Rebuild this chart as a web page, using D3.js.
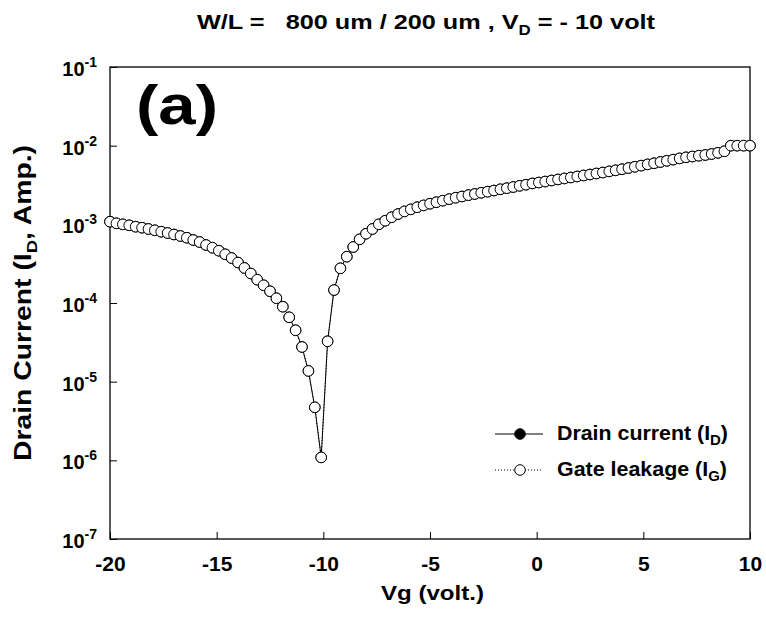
<!DOCTYPE html>
<html>
<head>
<meta charset="utf-8">
<script src="https://cdn.jsdelivr.net/npm/d3@7/dist/d3.min.js"></script>
<style>
  body { margin: 0; background: #fff; }
  text { font-family: "Liberation Sans", Arial, Helvetica, sans-serif; font-weight: bold; fill: #000; }
</style>
</head>
<body>
<svg id="chart" width="766" height="628"></svg>
<script>
// Gate sweep (volt)
const gateVoltage = [
  -20.0, -19.7, -19.4, -19.1, -18.8, -18.5, -18.2, -17.9, -17.6, -17.3,
  -17.0, -16.7, -16.4, -16.1, -15.8, -15.5, -15.2, -14.9, -14.6, -14.3,
  -14.0, -13.7, -13.4, -13.1, -12.8, -12.5, -12.2, -11.9, -11.6, -11.3,
  -11.0, -10.7, -10.4, -10.1, -9.8, -9.5, -9.2, -8.9, -8.6, -8.3,
  -8.0, -7.7, -7.4, -7.1, -6.8, -6.5, -6.2, -5.9, -5.6, -5.3,
  -5.0, -4.7, -4.4, -4.1, -3.8, -3.5, -3.2, -2.9, -2.6, -2.3,
  -2.0, -1.7, -1.4, -1.1, -0.8, -0.5, -0.2, 0.1, 0.4, 0.7,
  1.0, 1.3, 1.6, 1.9, 2.2, 2.5, 2.8, 3.1, 3.4, 3.7,
  4.0, 4.3, 4.6, 4.9, 5.2, 5.5, 5.8, 6.1, 6.4, 6.7,
  7.0, 7.3, 7.6, 7.9, 8.2, 8.5, 8.8, 9.1, 9.4, 9.7,
  10.0
];

// Drain current I_D (A)
const drainCurrent = [
  1.08e-3, 1.03e-3, 1.00e-3, 9.72e-4, 9.33e-4, 9.06e-4, 8.73e-4, 8.40e-4, 8.06e-4, 7.76e-4,
  7.43e-4, 7.11e-4, 6.76e-4, 6.32e-4, 5.96e-4, 5.46e-4, 5.05e-4, 4.62e-4, 4.16e-4, 3.73e-4,
  3.27e-4, 2.79e-4, 2.37e-4, 1.98e-4, 1.68e-4, 1.41e-4, 1.15e-4, 8.98e-5, 6.58e-5, 4.50e-5,
  2.76e-5, 1.37e-5, 4.72e-6, 1.09e-6, 3.26e-5, 1.46e-4, 2.76e-4, 3.88e-4, 5.15e-4, 6.45e-4,
  7.60e-4, 8.73e-4, 1.00e-3, 1.11e-3, 1.23e-3, 1.35e-3, 1.46e-3, 1.55e-3, 1.65e-3, 1.74e-3,
  1.83e-3, 1.91e-3, 2.00e-3, 2.09e-3, 2.18e-3, 2.26e-3, 2.35e-3, 2.43e-3, 2.52e-3, 2.60e-3,
  2.69e-3, 2.79e-3, 2.88e-3, 2.98e-3, 3.09e-3, 3.19e-3, 3.31e-3, 3.40e-3, 3.50e-3, 3.61e-3,
  3.72e-3, 3.83e-3, 3.94e-3, 4.06e-3, 4.18e-3, 4.30e-3, 4.43e-3, 4.56e-3, 4.71e-3, 4.86e-3,
  5.02e-3, 5.20e-3, 5.39e-3, 5.58e-3, 5.78e-3, 5.98e-3, 6.20e-3, 6.42e-3, 6.65e-3, 6.89e-3,
  7.11e-3, 7.28e-3, 7.45e-3, 7.61e-3, 7.83e-3, 8.11e-3, 8.48e-3, 1.00e-2, 1.00e-2, 1.00e-2,
  1.00e-2
];

// Gate leakage I_G (A)
const gateLeakage = [
  1.08e-3, 1.03e-3, 1.00e-3, 9.72e-4, 9.33e-4, 9.06e-4, 8.73e-4, 8.40e-4, 8.06e-4, 7.76e-4,
  7.43e-4, 7.11e-4, 6.76e-4, 6.32e-4, 5.96e-4, 5.46e-4, 5.05e-4, 4.62e-4, 4.16e-4, 3.73e-4,
  3.27e-4, 2.79e-4, 2.37e-4, 1.98e-4, 1.68e-4, 1.41e-4, 1.15e-4, 8.98e-5, 6.58e-5, 4.50e-5,
  2.76e-5, 1.37e-5, 4.72e-6, 1.09e-6, 3.26e-5, 1.46e-4, 2.76e-4, 3.88e-4, 5.15e-4, 6.45e-4,
  7.60e-4, 8.73e-4, 1.00e-3, 1.11e-3, 1.23e-3, 1.35e-3, 1.46e-3, 1.55e-3, 1.65e-3, 1.74e-3,
  1.83e-3, 1.91e-3, 2.00e-3, 2.09e-3, 2.18e-3, 2.26e-3, 2.35e-3, 2.43e-3, 2.52e-3, 2.60e-3,
  2.69e-3, 2.79e-3, 2.88e-3, 2.98e-3, 3.09e-3, 3.19e-3, 3.31e-3, 3.40e-3, 3.50e-3, 3.61e-3,
  3.72e-3, 3.83e-3, 3.94e-3, 4.06e-3, 4.18e-3, 4.30e-3, 4.43e-3, 4.56e-3, 4.71e-3, 4.86e-3,
  5.02e-3, 5.20e-3, 5.39e-3, 5.58e-3, 5.78e-3, 5.98e-3, 6.20e-3, 6.42e-3, 6.65e-3, 6.89e-3,
  7.11e-3, 7.28e-3, 7.45e-3, 7.61e-3, 7.83e-3, 8.11e-3, 8.48e-3, 1.00e-2, 1.00e-2, 1.00e-2,
  1.00e-2
];

const xTickValues = [-20, -15, -10, -5, 0, 5, 10];
const yExponents = [-7, -6, -5, -4, -3, -2, -1];

const svg = d3.select("#chart");
const plotLeft = 110, plotRight = 750, plotTop = 67, plotBottom = 539;

const x = d3.scaleLinear().domain([-20, 10]).range([plotLeft, plotRight]);
const y = d3.scaleLog().domain([1e-7, 1e-1]).range([plotBottom, plotTop]);

// Title
const title = svg.append("text")
  .attr("x", 197).attr("y", 29)
  .attr("textLength", 458).attr("lengthAdjust", "spacingAndGlyphs")
  .style("font-size", "21px")
  .style("white-space", "pre");
title.append("tspan").text("W/L =   800 um / 200 um , V");
title.append("tspan").attr("dy", 6).style("font-size", "14px").text("D");
title.append("tspan").attr("dy", -6).text(" = - 10 volt");

// Bottom axis (ticks point inward)
const xAxis = svg.append("g")
  .attr("transform", `translate(0,${plotBottom})`)
  .call(d3.axisBottom(x).tickValues(xTickValues).tickSizeInner(-7).tickSizeOuter(0).tickPadding(17)
    .tickFormat(d => String(d)));
xAxis.attr("font-family", null).attr("font-size", null);
xAxis.select(".domain").remove();
xAxis.selectAll("line").attr("stroke", "#000").attr("stroke-width", 1);
xAxis.selectAll("text").style("font-size", "21px");

// Left axis with power-of-ten labels
const yAxis = svg.append("g")
  .attr("transform", `translate(${plotLeft},0)`)
  .call(d3.axisLeft(y).tickValues(yExponents.map(e => Math.pow(10, e))).tickSizeInner(-7).tickSizeOuter(0).tickPadding(13));
yAxis.attr("font-family", null).attr("font-size", null);
yAxis.select(".domain").remove();
yAxis.selectAll("line").attr("stroke", "#000").attr("stroke-width", 1);
yAxis.selectAll("text")
  .style("font-size", "20px")
  .attr("dy", "0.42em")
  .text(null)
  .each(function (d) {
    const t = d3.select(this);
    t.append("tspan").text("10");
    t.append("tspan").attr("dy", -9).style("font-size", "14px")
      .text(Math.round(Math.log10(d)));
  });

// Plot frame
svg.append("rect")
  .attr("x", plotLeft).attr("y", plotTop)
  .attr("width", plotRight - plotLeft).attr("height", plotBottom - plotTop)
  .attr("fill", "none").attr("stroke", "#000").attr("stroke-width", 1.3);

// Panel tag
svg.append("text")
  .attr("x", 136).attr("y", 124)
  .attr("textLength", 82).attr("lengthAdjust", "spacingAndGlyphs")
  .style("font-size", "55px")
  .text("(a)");

// Axis titles
const yTitle = svg.append("text")
  .attr("transform", "translate(31,461) rotate(-90)")
  .attr("textLength", 316).attr("lengthAdjust", "spacingAndGlyphs")
  .style("font-size", "23px");
yTitle.append("tspan").text("Drain Current (I");
yTitle.append("tspan").attr("dy", 6).style("font-size", "15px").text("D");
yTitle.append("tspan").attr("dy", -6).text(", Amp.)");

svg.append("text")
  .attr("x", 381).attr("y", 600)
  .attr("textLength", 103).attr("lengthAdjust", "spacingAndGlyphs")
  .style("font-size", "21px")
  .text("Vg (volt.)");

// Series
const series = [
  { name: "Drain current", sub: "D", values: drainCurrent, dash: null, fill: "#000", width: 171 },
  { name: "Gate leakage", sub: "G", values: gateLeakage, dash: "1,2", fill: "#fff", width: 170 }
];

const line = d3.line().x(d => x(d[0])).y(d => y(d[1]));

series.forEach(s => {
  const pts = gateVoltage.map((v, i) => [v, s.values[i]]);
  svg.append("path")
    .datum(pts)
    .attr("d", line)
    .attr("fill", "none")
    .attr("stroke", "#000")
    .attr("stroke-width", 1)
    .attr("stroke-dasharray", s.dash);
  svg.append("g").selectAll("circle")
    .data(pts)
    .join("circle")
    .attr("cx", d => x(d[0]))
    .attr("cy", d => y(d[1]))
    .attr("r", 5.3)
    .attr("fill", s.fill)
    .attr("stroke", "#000")
    .attr("stroke-width", 1);
});

// Legend
const legend = svg.append("g");
series.forEach((s, i) => {
  const ly = 434 + i * 36;
  legend.append("line")
    .attr("x1", 495).attr("x2", 543).attr("y1", ly).attr("y2", ly)
    .attr("stroke", "#000").attr("stroke-width", 1)
    .attr("stroke-dasharray", s.dash);
  legend.append("circle")
    .attr("cx", 520).attr("cy", ly).attr("r", 5.3)
    .attr("fill", s.fill).attr("stroke", "#000").attr("stroke-width", 1);
  const t = legend.append("text")
    .attr("x", 557).attr("y", ly + 6)
    .attr("textLength", s.width).attr("lengthAdjust", "spacingAndGlyphs")
    .style("font-size", "20px");
  t.append("tspan").text(s.name + " (I");
  t.append("tspan").attr("dy", 5).style("font-size", "14px").text(s.sub);
  t.append("tspan").attr("dy", -5).text(")");
});
</script>
</body>
</html>
